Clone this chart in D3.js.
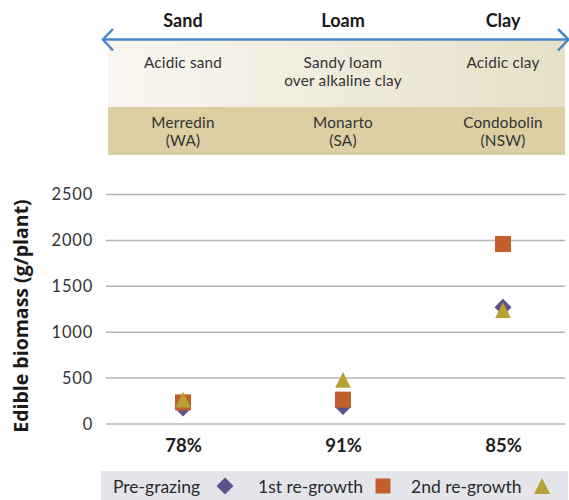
<!DOCTYPE html>
<html><head><meta charset="utf-8">
<script src="https://cdn.jsdelivr.net/npm/d3@7"></script>
<style>body{margin:0;background:#fff}svg{display:block}</style>
</head><body>
<svg id="c" width="569" height="500"></svg>
<script>
const sites = ["Merredin (WA)", "Monarto (SA)", "Condobolin (NSW)"];
const siteLines = [["Merredin","(WA)"],["Monarto","(SA)"],["Condobolin","(NSW)"]];
const soilClass = ["Sand","Loam","Clay"];
const soilDesc = [["Acidic sand"],["Sandy loam","over alkaline clay"],["Acidic clay"]];
const pctLabels = ["78%","91%","85%"];
const preGrazing = [170, 185, 1265];
const regrowth1 = [230, 260, 1955];
const regrowth2 = [260, 475, 1235];
const yTicks = [0, 500, 1000, 1500, 2000, 2500];
const seriesNames = ["Pre-grazing","1st re-growth","2nd re-growth"];

const svg = d3.select("#c");
const x = d3.scalePoint().domain(sites).range([183, 503]);
const y = d3.scaleLinear().domain([0, 2500]).range([423.5, 194]);
const colors = {diamond:"#5d5387", square:"#c25f2a", triangle:"#b7a235"};
const font = "Lato, 'Open Sans', sans-serif";

// header bands
const defs = svg.append("defs");
const g = defs.append("linearGradient").attr("id","hg").attr("x1","0").attr("x2","1");
g.append("stop").attr("offset","0").attr("stop-color","#f8f6f0");
g.append("stop").attr("offset","1").attr("stop-color","#e7e0c8");
svg.append("rect").attr("x",108).attr("y",40).attr("width",457).attr("height",67).attr("fill","url(#hg)");
svg.append("rect").attr("x",108).attr("y",107).attr("width",457).attr("height",48).attr("fill","#dccfa4");

// arrow
const blue = "#4a86c8";
svg.append("line").attr("x1",103).attr("x2",568).attr("y1",39.5).attr("y2",39.5).attr("stroke",blue).attr("stroke-width",2.5);
svg.append("path").attr("d","M113,29 L103,39.5 L113,50.5").attr("fill","none").attr("stroke",blue).attr("stroke-width",2.5);
svg.append("path").attr("d","M558,29 L568.5,39.5 L558,50.5").attr("fill","none").attr("stroke",blue).attr("stroke-width",2.5);

// header text
function multiline(lines, cx, y0, lh){
  lines.forEach((s,j)=>{
    svg.append("text").attr("x",cx).attr("y",y0+j*lh).attr("text-anchor","middle")
      .attr("font-family",font).attr("font-size",15.3).attr("fill","#333")
      .attr("letter-spacing","0.2px").text(s);
  });
}
sites.forEach((s,i)=>{
  svg.append("text").attr("x",x(s)).attr("y",26.5).attr("text-anchor","middle")
    .attr("font-family",font).attr("font-weight","bold").attr("font-size",18).attr("fill","#1a1a1a").text(soilClass[i]);
  multiline(soilDesc[i], x(s), 67.5, 18.5);
  multiline(siteLines[i], x(s), 127.5, 18.5);
});

// grid + y axis
const yAxis = d3.axisLeft(y).tickValues(yTicks).tickFormat(d3.format("d")).tickSize(-459).tickPadding(13);
const ga = svg.append("g").attr("transform","translate(106,0)").call(yAxis);
ga.select(".domain").remove();
ga.selectAll(".tick line").attr("stroke","#b3b3bb").attr("stroke-width",1.5);
ga.selectAll(".tick text").attr("font-family",font).attr("font-size",16.5).attr("fill","#333")
  .attr("letter-spacing","0.8px").attr("dy","0.35em");

// x labels
const xAxis = d3.axisBottom(x).tickSize(0).tickPadding(0).tickFormat((d,i)=>pctLabels[i]);
const gx = svg.append("g").attr("transform","translate(0,437)").call(xAxis);
gx.select(".domain").remove();
gx.selectAll(".tick text").attr("font-family",font).attr("font-weight","bold").attr("font-size",18.5)
  .attr("fill","#222").attr("dy","0.8em");

// y title
svg.append("text").attr("transform","translate(28,316) rotate(-90)").attr("text-anchor","middle")
  .attr("font-family","'Open Sans', sans-serif").attr("font-weight","bold").attr("font-size",19.5).attr("fill","#1a1a1a")
  .text("Edible biomass (g/plant)");

// markers
function diamond(h){return `M0,${-h} L${h},0 L0,${h} L${-h},0 Z`;}
function square(h){return `M${-h},${-h} H${h} V${h} H${-h} Z`;}
function triangle(h){return `M0,${-h} L${h},${h} L${-h},${h} Z`;}
const series = [
  {vals:preGrazing, path:diamond(8.5), color:colors.diamond},
  {vals:regrowth1, path:square(8), color:colors.square},
  {vals:regrowth2, path:triangle(7.8), color:colors.triangle}
];
series.forEach(s=>{
  svg.append("g").selectAll("path").data(s.vals).join("path")
    .attr("transform",(d,i)=>`translate(${x(sites[i])},${y(d)})`)
    .attr("d",s.path).attr("fill",s.color);
});

// legend
svg.append("rect").attr("x",101).attr("y",471).attr("width",467).attr("height",29).attr("fill","#e3e5ea");
const lg = [
  {tx:113, mx:225, path:diamond(8.5), color:colors.diamond},
  {tx:258, mx:383, path:square(7.5), color:colors.square},
  {tx:411, mx:542, path:triangle(8), color:colors.triangle}
];
lg.forEach((l,i)=>{
  svg.append("text").attr("x",l.tx).attr("y",492.5).attr("font-family",font).attr("font-size",17.5)
    .attr("fill","#2a2a2a").text(seriesNames[i]);
  svg.append("path").attr("transform",`translate(${l.mx},486)`).attr("d",l.path).attr("fill",l.color);
});
</script>
</body></html>
